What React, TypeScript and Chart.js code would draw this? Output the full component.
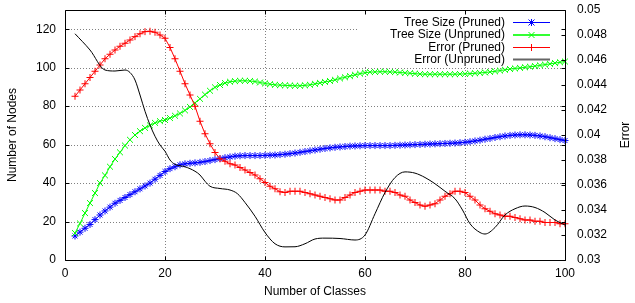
import React, { useEffect, useRef } from "react";
import { Chart, registerables } from "chart.js";

Chart.register(...registerables);

const classes = [
  2, 3, 4, 5, 6, 7, 8, 9, 10, 11,
  12, 13, 14, 15, 16, 17, 18, 19, 20, 21,
  22, 23, 24, 25, 26, 27, 28, 29, 30, 31,
  32, 33, 34, 35, 36, 37, 38, 39, 40, 41,
  42, 43, 44, 45, 46, 47, 48, 49, 50, 51,
  52, 53, 54, 55, 56, 57, 58, 59, 60, 61,
  62, 63, 64, 65, 66, 67, 68, 69, 70, 71,
  72, 73, 74, 75, 76, 77, 78, 79, 80, 81,
  82, 83, 84, 85, 86, 87, 88, 89, 90, 91,
  92, 93, 94, 95, 96, 97, 98, 99, 100,
];

const treeSizePruned = [
  12.5, 14.5, 16.5, 18.5, 21, 23.4, 25.5, 27.5, 29.5, 31,
  32.5, 34, 35.5, 37, 38.5, 40, 42, 44, 46, 47.5,
  48.5, 49.5, 50, 50.3, 50.5, 50.8, 51.2, 51.7, 52.2, 52.7,
  53.2, 53.6, 54, 54.2, 54.3, 54.3, 54.3, 54.3, 54.4, 54.5,
  54.6, 54.8, 55, 55.3, 55.6, 56, 56.4, 56.8, 57.2, 57.6,
  58, 58.3, 58.6, 58.8, 59, 59.2, 59.3, 59.4, 59.5, 59.5,
  59.5, 59.5, 59.5, 59.5, 59.6, 59.7, 59.8, 59.9, 60, 60.1,
  60.2, 60.3, 60.4, 60.5, 60.6, 60.7, 60.8, 61, 61.2, 61.5,
  61.9, 62.3, 62.8, 63.2, 63.7, 64.1, 64.5, 64.8, 65, 65.1,
  65.1, 65, 64.8, 64.5, 64.1, 63.6, 63.1, 62.6, 62.1,
];

const treeSizeUnpruned = [
  14, 19, 24.4, 29.6, 34.8, 40, 44, 48.5, 52.5, 56,
  59.5, 62.5, 65, 67, 68.7, 70, 71.3, 72.2, 72.8, 73.8,
  75, 76.2, 77.8, 79.6, 81.7, 83.8, 86, 88, 89.8, 91,
  92, 92.7, 93, 93.2, 93.2, 93.1, 92.8, 92.3, 91.8, 91.4,
  91.1, 90.9, 90.8, 90.7, 90.6, 90.6, 90.8, 91.1, 91.6, 92.1,
  92.6, 93.1, 93.7, 94.4, 95, 95.6, 96.3, 96.9, 97.4, 97.7,
  97.8, 97.9, 97.9, 97.8, 97.7, 97.5, 97.3, 97.1, 96.9, 96.7,
  96.6, 96.6, 96.6, 96.6, 96.6, 96.6, 96.6, 96.7, 96.8, 96.9,
  97.1, 97.3, 97.5, 97.8, 98.1, 98.5, 98.9, 99.3, 99.6, 99.9,
  100.2, 100.5, 100.8, 101.2, 101.6, 102, 102.4, 102.8, 103.2,
];

const errorPruned = [
  0.0431, 0.0436, 0.0441, 0.0446, 0.0451, 0.0456, 0.0461, 0.04646, 0.0468, 0.0471,
  0.04734, 0.0476, 0.04787, 0.0481, 0.04827, 0.0483, 0.04822, 0.048, 0.04774, 0.047,
  0.0461, 0.0451, 0.0441, 0.0432, 0.0423, 0.0411, 0.0401, 0.0393, 0.0386, 0.0381,
  0.0379, 0.0377, 0.0376, 0.0374, 0.0372, 0.037, 0.0368, 0.0365, 0.0362, 0.0359,
  0.0357, 0.03546, 0.0354, 0.0355, 0.0355, 0.0355, 0.0354, 0.0353, 0.0352, 0.0351,
  0.035, 0.0349, 0.0348, 0.0348, 0.035, 0.0352, 0.0354, 0.0355, 0.0356, 0.0356,
  0.0356, 0.0356, 0.0355, 0.0355, 0.0354, 0.0352, 0.0351, 0.0348, 0.0346, 0.0344,
  0.0343, 0.0344, 0.0345, 0.0348, 0.0351, 0.0353, 0.0355, 0.0355, 0.0354, 0.0351,
  0.0348, 0.0344, 0.0341, 0.0339, 0.0337, 0.0336, 0.0335, 0.0335, 0.0334, 0.0333,
  0.0332, 0.0332, 0.0331, 0.0331, 0.033, 0.033, 0.033, 0.0329, 0.0329,
];

const errorUnprunedClasses = [
  2, 5, 8, 10, 12, 13, 14, 15, 16, 17, 18, 19, 20, 21, 22, 24, 26, 27, 28, 29,
  31, 33, 34.5, 36, 38, 40, 42, 44, 46, 48, 50, 52, 55, 58, 60, 62, 64, 66, 68,
  70, 72, 74, 76, 78, 79.5, 81, 83, 84, 86, 88, 90, 92, 94, 96, 98, 100,
];

const errorUnpruned = [
  0.0481, 0.0468, 0.0452, 0.04512, 0.0452, 0.045, 0.0444, 0.0432, 0.0419, 0.0408,
  0.0399, 0.0392, 0.0387, 0.038, 0.03765, 0.03746, 0.0371, 0.0368, 0.0363, 0.0359,
  0.03572, 0.0356, 0.0353, 0.0346, 0.0335, 0.0322, 0.0313, 0.03105, 0.03106, 0.0313,
  0.03168, 0.03175, 0.03172, 0.0316, 0.032, 0.0337, 0.0354, 0.0366, 0.03705,
  0.03695, 0.0366, 0.0361, 0.0355, 0.0349, 0.034, 0.0329, 0.0322, 0.03208, 0.0326,
  0.0336, 0.0341, 0.03432, 0.0342, 0.0338, 0.0332, 0.0328,
];

const xTicks = [0, 20, 40, 60, 80, 100];
const leftTicks = [0, 20, 40, 60, 80, 100, 120];
const rightTicks = [0.03, 0.032, 0.034, 0.036, 0.038, 0.04, 0.042, 0.044, 0.046, 0.048, 0.05];
const xGridValues = [20, 40, 60, 80];
const yGridValues = [20, 40, 60, 80, 100, 120];

const seriesNames = ["Tree Size (Pruned)", "Tree Size (Unpruned)", "Error (Pruned)", "Error (Unpruned)"];
const xTitle = "Number of Classes";
const yTitle = "Number of Nodes";
const y2Title = "Error";

const FONT = "'Liberation Sans', Arial, sans-serif";

const decor = {
  id: "gnuplotDecor",
  beforeDatasetsDraw(chart: any) {
    const { ctx, chartArea: a, scales } = chart;
    ctx.save();
    ctx.strokeStyle = "#808080";
    ctx.lineWidth = 1;
    ctx.setLineDash([1, 2]);
    for (const v of xGridValues) {
      const x = Math.round(scales.x.getPixelForValue(v)) + 0.5;
      ctx.beginPath();
      ctx.moveTo(x, a.top);
      ctx.lineTo(x, a.bottom);
      ctx.stroke();
    }
    for (const v of yGridValues) {
      const y = Math.round(scales.y.getPixelForValue(v)) + 0.5;
      ctx.beginPath();
      ctx.moveTo(a.left, y);
      ctx.lineTo(a.right, y);
      ctx.stroke();
    }
    ctx.setLineDash([]);
    // blank area behind the key
    ctx.fillStyle = "#ffffff";
    ctx.fillRect(a.right - 208, a.top + 1, 206, 54);
    ctx.restore();
  },
  afterDatasetsDraw(chart: any) {
    const { ctx, chartArea: a, scales } = chart;
    ctx.save();
    ctx.strokeStyle = "#000";
    ctx.lineWidth = 1;
    const L = Math.round(a.left) + 0.5;
    const R = Math.round(a.right) + 0.5;
    const T = Math.round(a.top) + 0.5;
    const B = Math.round(a.bottom) + 0.5;
    ctx.beginPath();
    ctx.rect(L, T, R - L, B - T);
    ctx.stroke();
    const tl = 4;
    ctx.beginPath();
    for (const v of xTicks) {
      const x = Math.round(scales.x.getPixelForValue(v)) + 0.5;
      ctx.moveTo(x, B);
      ctx.lineTo(x, B - tl);
      ctx.moveTo(x, T);
      ctx.lineTo(x, T + tl);
    }
    for (const v of leftTicks) {
      const y = Math.round(scales.y.getPixelForValue(v)) + 0.5;
      ctx.moveTo(L, y);
      ctx.lineTo(L + tl, y);
      ctx.moveTo(R, y);
      ctx.lineTo(R - tl, y);
    }
    for (const v of rightTicks) {
      const y = Math.round(scales.y2.getPixelForValue(v)) + 0.5;
      ctx.moveTo(R, y);
      ctx.lineTo(R - tl, y);
    }
    ctx.stroke();

    // key
    const sampleColors = ["#0000ff", "#33ff33", "#ff0000", "#666666"];
    const sampleWidths = [1.2, 2, 1.2, 2];
    const textRight = a.right - 60;
    const s0 = a.right - 52;
    const s1 = a.right - 15;
    const rows = [a.top + 12.5, a.top + 25, a.top + 37.5, a.top + 49.5];
    ctx.font = `12px ${FONT}`;
    ctx.textAlign = "right";
    ctx.textBaseline = "middle";
    seriesNames.forEach((name, i) => {
      const y = rows[i];
      ctx.fillStyle = "#000";
      ctx.fillText(name, textRight, y);
      ctx.strokeStyle = sampleColors[i];
      ctx.lineWidth = sampleWidths[i];
      ctx.beginPath();
      ctx.moveTo(s0, y);
      ctx.lineTo(s1, y);
      ctx.stroke();
    });
    // markers in key
    const mid = (s0 + s1) / 2;
    ctx.lineWidth = 1;
    ctx.strokeStyle = "#0000ff";
    ctx.beginPath();
    ctx.moveTo(mid - 3.5, rows[0]); ctx.lineTo(mid + 3.5, rows[0]);
    ctx.moveTo(mid, rows[0] - 3.5); ctx.lineTo(mid, rows[0] + 3.5);
    ctx.moveTo(mid - 3, rows[0] - 3); ctx.lineTo(mid + 3, rows[0] + 3);
    ctx.moveTo(mid - 3, rows[0] + 3); ctx.lineTo(mid + 3, rows[0] - 3);
    ctx.stroke();
    ctx.strokeStyle = "#00ff00";
    ctx.beginPath();
    ctx.moveTo(mid - 3, rows[1] - 3); ctx.lineTo(mid + 3, rows[1] + 3);
    ctx.moveTo(mid - 3, rows[1] + 3); ctx.lineTo(mid + 3, rows[1] - 3);
    ctx.stroke();
    ctx.strokeStyle = "#ff0000";
    ctx.beginPath();
    ctx.moveTo(mid - 3.5, rows[2]); ctx.lineTo(mid + 3.5, rows[2]);
    ctx.moveTo(mid, rows[2] - 3.5); ctx.lineTo(mid, rows[2] + 3.5);
    ctx.stroke();

    // axis titles
    ctx.fillStyle = "#000";
    ctx.textAlign = "center";
    ctx.textBaseline = "middle";
    const cy = (a.top + a.bottom) / 2;
    ctx.fillText(xTitle, (a.left + a.right) / 2, 292);
    ctx.save();
    ctx.translate(13, cy);
    ctx.rotate(-Math.PI / 2);
    ctx.fillText(yTitle, 0, 0);
    ctx.restore();
    ctx.save();
    ctx.translate(626, cy);
    ctx.rotate(-Math.PI / 2);
    ctx.fillText(y2Title, 0, 0);
    ctx.restore();
    ctx.restore();
  },
};

export default function App() {
  const ref = useRef<HTMLCanvasElement | null>(null);
  useEffect(() => {
    const canvas = ref.current;
    if (!canvas) return;
    const pts = (xs: number[], ys: number[]) => xs.map((x, i) => ({ x, y: ys[i] }));
    const chart = new Chart(canvas, {
      type: "line",
      data: {
        datasets: [
          {
            label: seriesNames[0],
            data: pts(classes, treeSizePruned),
            yAxisID: "y",
            borderColor: "#0000ff",
            backgroundColor: "#0000ff",
            borderWidth: 1,
            pointStyle: "star",
            pointRadius: 3.5,
            pointBorderWidth: 1,
            pointBorderColor: "#0000ff",
            fill: false,
            order: 4,
            clip: false,
          },
          {
            label: seriesNames[1],
            data: pts(classes, treeSizeUnpruned),
            yAxisID: "y",
            borderColor: "#00ff00",
            backgroundColor: "#00ff00",
            borderWidth: 1,
            pointStyle: "crossRot",
            pointRadius: 4.2,
            pointBorderWidth: 1,
            pointBorderColor: "#00ff00",
            fill: false,
            order: 3,
            clip: false,
          },
          {
            label: seriesNames[2],
            data: pts(classes, errorPruned),
            yAxisID: "y2",
            borderColor: "#ff0000",
            backgroundColor: "#ff0000",
            borderWidth: 1,
            pointStyle: "cross",
            pointRadius: 3.5,
            pointBorderWidth: 1,
            pointBorderColor: "#ff0000",
            fill: false,
            order: 2,
            clip: false,
          },
          {
            label: seriesNames[3],
            data: pts(errorUnprunedClasses, errorUnpruned),
            yAxisID: "y2",
            borderColor: "#000000",
            backgroundColor: "#000000",
            borderWidth: 1,
            pointRadius: 0,
            cubicInterpolationMode: "monotone",
            fill: false,
            order: 1,
          },
        ],
      },
      options: {
        animation: false,
        responsive: false,
        devicePixelRatio: 1,
        layout: { padding: { top: 10, left: 0, right: 0, bottom: 0 } },
        plugins: { legend: { display: false }, tooltip: { enabled: false } },
        elements: { line: { tension: 0 } },
        scales: {
          x: {
            type: "linear",
            min: 0,
            max: 100,
            grid: { display: false, drawTicks: false },
            border: { display: false },
            ticks: { color: "#000", font: { family: FONT, size: 12 }, padding: 6, maxRotation: 0 },
            afterBuildTicks: (s: any) => { s.ticks = xTicks.map((v) => ({ value: v })); },
            afterFit: (s: any) => { s.height = 43; s.paddingLeft = 0; s.paddingRight = 0; },
          },
          y: {
            type: "linear",
            position: "left",
            min: 0,
            max: 130,
            grid: { display: false, drawTicks: false },
            border: { display: false },
            ticks: { color: "#000", font: { family: FONT, size: 12 }, padding: 9 },
            afterBuildTicks: (s: any) => { s.ticks = leftTicks.map((v) => ({ value: v })); },
            afterFit: (s: any) => { s.width = 65; s.paddingTop = 0; s.paddingBottom = 0; },
          },
          y2: {
            type: "linear",
            position: "right",
            min: 0.03,
            max: 0.05,
            grid: { display: false, drawTicks: false },
            border: { display: false },
            ticks: {
              color: "#000",
              font: { family: FONT, size: 12 },
              padding: 12,
              callback: (v: any) => String(Number(Number(v).toFixed(3))),
            },
            afterBuildTicks: (s: any) => { s.ticks = rightTicks.map((v) => ({ value: v })); },
            afterFit: (s: any) => { s.width = 70; s.paddingTop = 0; s.paddingBottom = 0; },
          },
        },
      },
      plugins: [decor],
    });
    return () => chart.destroy();
  }, []);
  return (
    <div style={{ position: "absolute", left: 0, top: 0, width: 635, height: 303, background: "#fff" }}>
      <canvas ref={ref} width={635} height={303} style={{ width: 635, height: 303, display: "block" }} />
    </div>
  );
}
